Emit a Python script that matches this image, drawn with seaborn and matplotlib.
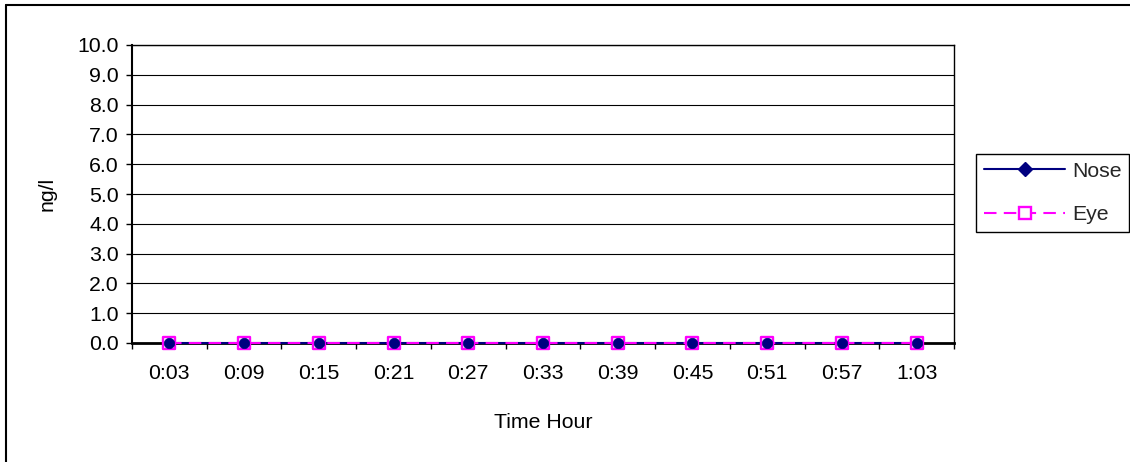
import numpy as np
import pandas as pd
import matplotlib
matplotlib.use("Agg")
import matplotlib.pyplot as plt
from matplotlib.lines import Line2D
from matplotlib.ticker import FixedLocator, MultipleLocator
import seaborn as sns

# Sampling times and measured concentrations (ng/l)
times = ["0:03", "0:09", "0:15", "0:21", "0:27", "0:33", "0:39", "0:45", "0:51", "0:57", "1:03"]
nose = [0.0, 0.0, 0.0, 0.0, 0.0, 0.0, 0.0, 0.0, 0.0, 0.0, 0.0]
eye = [0.0, 0.0, 0.0, 0.0, 0.0, 0.0, 0.0, 0.0, 0.0, 0.0, 0.0]
y_ticks = [0.0, 1.0, 2.0, 3.0, 4.0, 5.0, 6.0, 7.0, 8.0, 9.0, 10.0]

NAVY = "#000080"
MAGENTA = "#FF00FF"

sns.set_theme(style="white")
plt.rcParams["font.family"] = ["Liberation Sans", "DejaVu Sans"]
FS = 15.3

W, H = 1130, 462
fig = plt.figure(figsize=(W / 100, H / 100), dpi=100)
fig.patch.set_facecolor("white")

L, R, T, B = 132, 954, 45, 343
ax = fig.add_axes([L / W, 1 - B / H, (R - L) / W, (B - T) / H])
ax.set_facecolor("white")

df = pd.DataFrame({"time": times, "Nose": nose, "Eye": eye})
pos = np.arange(len(times))

# connecting lines
sns.lineplot(x=pos, y=df["Nose"], ax=ax, color=NAVY, linewidth=1.5,
             zorder=3, clip_on=False, legend=False)
sns.lineplot(x=pos, y=df["Eye"], ax=ax, color=MAGENTA, linewidth=1.5,
             linestyle=(0, (6, 3.5)), zorder=3.1, clip_on=False, legend=False)
# markers on top of the lines
sns.scatterplot(x=pos, y=df["Eye"], ax=ax, marker="s", s=82, facecolor="white",
                edgecolor=MAGENTA, linewidth=1.7, zorder=4, clip_on=False, legend=False)
sns.scatterplot(x=pos, y=df["Nose"], ax=ax, marker="o", s=56, color=NAVY,
                edgecolor=NAVY, linewidth=0.5, zorder=5, clip_on=False, legend=False)

ax.set_xlim(-0.5, len(times) - 0.5)
ax.set_ylim(0, 10)

ax.yaxis.set_major_locator(FixedLocator(y_ticks))
ax.set_yticklabels([f"{v:.1f}" for v in y_ticks], fontsize=FS, color="black")
ax.set_xticks(pos)
ax.set_xticklabels(times, fontsize=FS, color="black")
ax.xaxis.set_minor_locator(MultipleLocator(1, offset=0.5))

ax.tick_params(axis="y", which="major", direction="out", length=4.5, width=1,
               color="black", pad=5, left=True)
ax.tick_params(axis="x", which="major", length=0, pad=15, bottom=True)
ax.tick_params(axis="x", which="minor", direction="out", length=4, width=1,
               color="black", bottom=True)

ax.grid(axis="y", color="black", linewidth=0.8, zorder=0)
ax.grid(axis="x", visible=False)
ax.set_axisbelow(True)

for side, sp in ax.spines.items():
    sp.set_visible(True)
    sp.set_color("black")
    sp.set_linewidth(1.0)
ax.spines["left"].set_linewidth(1.5)
ax.spines["bottom"].set_linewidth(2.0)

ax.set_xlabel("Time Hour", fontsize=FS, color="black", labelpad=22)
ax.set_ylabel("ng/l", fontsize=FS, color="black")
ax.yaxis.set_label_coords((57 - L) / (R - L), 0.5)

# legend
handles = [
    Line2D([], [], color=NAVY, linewidth=1.5, marker="D", markersize=7.5,
           markerfacecolor=NAVY, markeredgecolor=NAVY),
    Line2D([], [], color=MAGENTA, linewidth=1.5, linestyle=(0, (6, 3.5)),
           marker="s", markersize=8.5, markerfacecolor="white",
           markeredgecolor=MAGENTA, markeredgewidth=1.7),
]
leg = fig.legend(handles, ["Nose", "Eye"], loc="upper left",
                 bbox_to_anchor=(976 / W, 1 - 154 / H), borderaxespad=0,
                 fontsize=FS, frameon=True, fancybox=False, shadow=False,
                 handlelength=3.85, handletextpad=0.3, labelspacing=1.15,
                 borderpad=0.36)
leg.get_frame().set_edgecolor("black")
leg.get_frame().set_linewidth(1.0)
leg.get_frame().set_alpha(1)

# chart frame (top and left edges)
fig.add_artist(Line2D([6 / W, 1.0], [1 - 5 / H, 1 - 5 / H], transform=fig.transFigure,
                      color="black", linewidth=1.5))
fig.add_artist(Line2D([6 / W, 6 / W], [0.0, 1 - 5 / H], transform=fig.transFigure,
                      color="black", linewidth=1.5))

fig.savefig("out.png", dpi=100, facecolor="white")
